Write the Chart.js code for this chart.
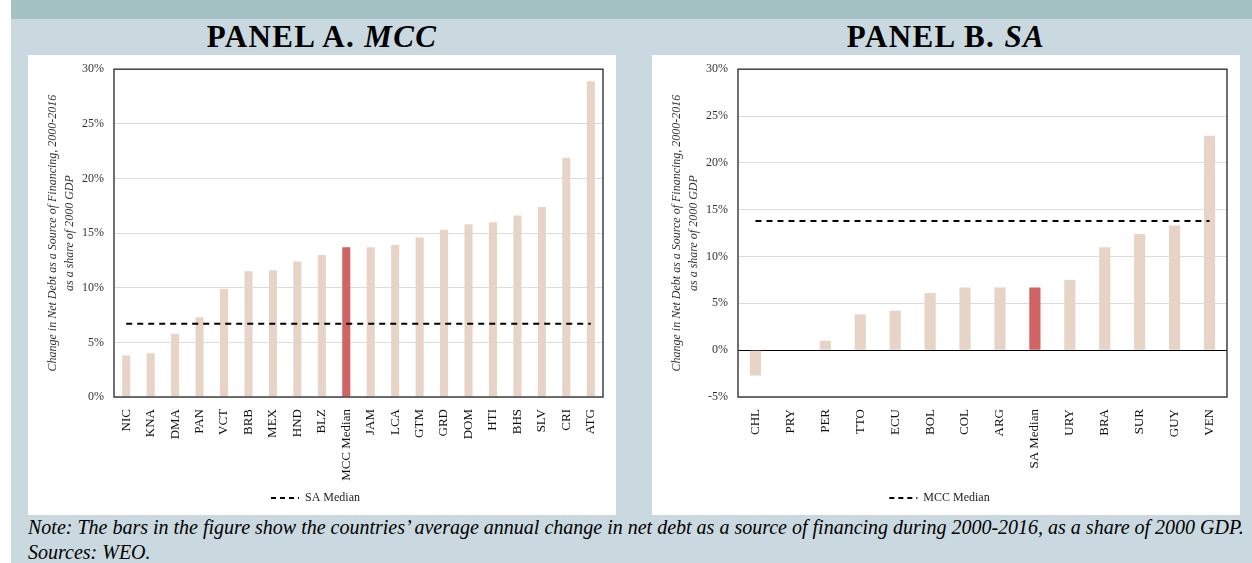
<!DOCTYPE html>
<html>
<head>
<meta charset="utf-8">
<script src="https://cdn.jsdelivr.net/npm/chart.js@4.4.1/dist/chart.umd.min.js"></script>
<style>
  body { margin: 0; width: 1252px; height: 563px; overflow: hidden; background: #fff; position: relative;
         font-family: "Liberation Serif", "DejaVu Serif", serif; }
  #bg   { position: absolute; left: 11px; top: 0; right: 0; bottom: 0; background: #cad8df; }
  #band { position: absolute; left: 11px; top: 0; right: 0; height: 19px; background: #a4c2c3; }
  .title { position: absolute; top: 22px; width: 588px; text-align: center; font-size: 31px;
           font-weight: bold; line-height: 30px; color: #000; letter-spacing: 1.4px; }
  .panel { position: absolute; top: 55px; width: 588px; height: 460px; background: #fff; }
  .holder { position: absolute; top: 52px; width: 588px; height: 463px; }
  #pa, #ta, #ha { left: 28px; }
  #pb, #tb, #hb { left: 652px; }
  .note { position: absolute; left: 28px; top: 515px; font-size: 20px; line-height: 25px;
          font-style: italic; color: #000; white-space: nowrap; }
</style>
</head>
<body>
<div id="bg"></div>
<div id="band"></div>
<div class="title" id="ta">PANEL A. <i>MCC</i></div>
<div class="title" id="tb">PANEL B. <i>SA</i></div>
<div class="panel" id="pa"></div>
<div class="panel" id="pb"></div>
<div class="holder" id="ha"><canvas id="chartA"></canvas></div>
<div class="holder" id="hb"><canvas id="chartB"></canvas></div>
<div class="note">Note: The bars in the figure show the countries’ average annual change in net debt as a source of financing during 2000-2016, as a share of 2000 GDP.<br>Sources: WEO.</div>

<script>
// Panel A: MCC countries (percent of 2000 GDP)
const mccLabels = ["NIC", "KNA", "DMA", "PAN", "VCT", "BRB", "MEX", "HND", "BLZ", "MCC Median",
                   "JAM", "LCA", "GTM", "GRD", "DOM", "HTI", "BHS", "SLV", "CRI", "ATG"];
const mccValues = [3.8, 4.0, 5.8, 7.3, 9.9, 11.5, 11.6, 12.4, 13.0, 13.7,
                   13.7, 13.9, 14.6, 15.3, 15.8, 16.0, 16.6, 17.4, 21.9, 28.9];
const saMedianLine = 6.7;

// Panel B: SA countries
const saLabels = ["CHL", "PRY", "PER", "TTO", "ECU", "BOL", "COL", "ARG", "SA Median",
                  "URY", "BRA", "SUR", "GUY", "VEN"];
const saValues = [-2.7, 0.0, 1.0, 3.8, 4.2, 6.1, 6.7, 6.7, 6.7, 7.5, 11.0, 12.4, 13.3, 22.9];
const mccMedianLine = 13.8;

const yTitle = ["Change in Net Debt as a Source of Financing, 2000-2016", "as a share of 2000 GDP"];

const BAR = "#e7d4c6";
const BAR_MEDIAN = "#d06363";
const FRAME = "#404040";
const DASH = [6, 5];

Chart.defaults.font.family = '"Liberation Serif", "DejaVu Serif", serif';

// draws the box around the plot area
const frame = {
  id: "frame",
  afterDatasetsDraw(chart) {
    const { ctx, chartArea: a } = chart;
    ctx.save();
    ctx.strokeStyle = FRAME;
    ctx.lineWidth = 1.5;
    ctx.strokeRect(a.left, a.top, a.right - a.left, a.bottom - a.top);
    ctx.restore();
  },
};

function buildConfig(labels, values, medianLabel, lineLabel, lineValue, yMin, barPct) {
  return {
    data: {
      labels,
      datasets: [
        {
          type: "line",
          label: lineLabel,
          data: labels.map(() => lineValue),
          borderColor: "#000",
          backgroundColor: "#000",
          borderWidth: 2,
          borderDash: DASH,
          pointRadius: 0,
          fill: false,
          order: 0,
        },
        {
          type: "bar",
          label: "values",
          data: values,
          backgroundColor: labels.map((l) => (l === medianLabel ? BAR_MEDIAN : BAR)),
          categoryPercentage: 1,
          barPercentage: barPct,
          order: 1,
        },
      ],
    },
    options: {
      responsive: true,
      maintainAspectRatio: false,
      animation: false,
      layout: { padding: { top: 8, right: 13, left: 0, bottom: 1 } },
      plugins: {
        tooltip: { enabled: false },
        legend: {
          position: "bottom",
          labels: {
            // point-style legend items lose the dataset dash, so put it back
            generateLabels: (chart) =>
              Chart.defaults.plugins.legend.labels.generateLabels(chart)
                .filter((item) => item.text !== "values")
                .map((item) => ({ ...item, lineDash: [5, 4], lineWidth: 2 })),
            usePointStyle: true,
            pointStyle: "line",
            pointStyleWidth: 28,
            color: "#222",
            font: { size: 12 },
            padding: 10,
          },
        },
      },
      scales: {
        x: {
          grid: { display: false },
          border: { display: false },
          ticks: { minRotation: 90, maxRotation: 90, autoSkip: false, color: "#111", font: { size: 13 }, padding: 4 },
          afterFit: (s) => { s.height = 85; },
        },
        y: {
          min: yMin,
          max: 30,
          border: { display: false },
          grid: {
            drawTicks: false,
            color: (c) => (c.tick && c.tick.value === 0 && yMin < 0 ? "#000" : "#dcdcdc"),
          },
          ticks: { stepSize: 5, padding: 10, color: "#333", font: { size: 12 }, callback: (v) => v + "%" },
          title: {
            display: true,
            text: yTitle,
            color: "#333",
            font: { size: 12, style: "italic", lineHeight: 1.45 },
            padding: { top: 16, bottom: 0 },
          },
          afterFit: (s) => { s.width = 86; },
        },
      },
    },
    plugins: [frame],
  };
}

new Chart(document.getElementById("chartA"),
  buildConfig(mccLabels, mccValues, "MCC Median", "SA Median", saMedianLine, 0, 0.33));
new Chart(document.getElementById("chartB"),
  buildConfig(saLabels, saValues, "SA Median", "MCC Median", mccMedianLine, -5, 0.32));
</script>
</body>
</html>
